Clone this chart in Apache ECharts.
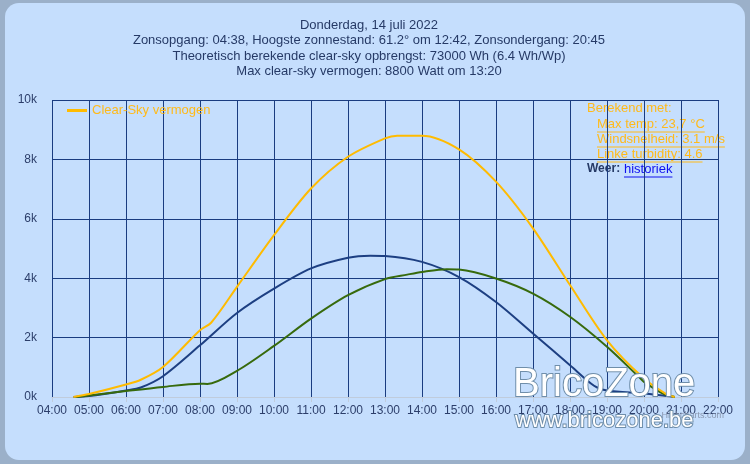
<!DOCTYPE html>
<html>
<head>
<meta charset="utf-8">
<script src="https://cdn.jsdelivr.net/npm/echarts@6/dist/echarts.min.js"></script>
<style>
  html, body { margin: 0; padding: 0; background: #9bb0c9; }
  #chart { width: 750px; height: 464px; }
</style>
</head>
<body>
<div id="chart"></div>
<script>
// Data (hour of day, kW)
const clearSkyTimes = [4.58, 5, 6, 6.4, 7, 8, 8.3, 9, 10, 11, 12, 13, 13.33, 14, 15, 16, 17, 18, 19, 20, 20.6, 20.83];
const clearSkyVals  = [0, 0.1, 0.42, 0.58, 1.01, 2.25, 2.5, 3.71, 5.45, 7.02, 8.09, 8.71, 8.8, 8.8, 8.34, 7.25, 5.68, 3.77, 1.91, 0.62, 0.1, 0];

const blueTimes = [4.58, 5, 6, 6.4, 7, 8, 9, 10, 11, 12, 12.6, 13, 14, 15, 16, 17, 18, 18.65, 19, 20, 20.6, 20.83];
const blueVals  = [0, 0.03, 0.22, 0.32, 0.70, 1.74, 2.83, 3.65, 4.33, 4.69, 4.76, 4.75, 4.55, 4.04, 3.20, 2.14, 1.07, 0.38, 0.22, 0.12, 0.03, 0];

const greenTimes = [4.65, 5, 6, 7, 8, 8.2, 9, 10, 11, 12, 13, 13.6, 14, 14.67, 15, 16, 17, 18, 19, 19.9, 20, 20.5, 20.83];
const greenVals  = [0, 0.05, 0.2, 0.34, 0.45, 0.44, 0.88, 1.72, 2.64, 3.43, 3.97, 4.12, 4.21, 4.3, 4.29, 3.99, 3.48, 2.70, 1.69, 0.63, 0.51, 0.12, 0];

const titleLines = [
  'Donderdag, 14 juli 2022',
  'Zonsopgang: 04:38, Hoogste zonnestand: 61.2° om 12:42, Zonsondergang: 20:45',
  'Theoretisch berekende clear-sky opbrengst: 73000 Wh (6.4 Wh/Wp)',
  'Max clear-sky vermogen: 8800 Watt om 13:20'
];
const infoLines = ['Max temp: 23,7 °C', 'Windsnelheid: 3.1 m/s', 'Linke turbidity: 4.6'];

const FONT = 'Liberation Sans';
const ORANGE = '#ffba1a';

function pairs(t, v) { return t.map((x, i) => [x, v[i]]); }

const measureCtx = document.createElement('canvas').getContext('2d');
function textW(s, size) { measureCtx.font = size + 'px "' + FONT + '"'; return measureCtx.measureText(s).width; }

const graphics = [
  { type: 'rect', left: 5, top: 3, z: -10, silent: true,
    shape: { width: 740, height: 457, r: 14 }, style: { fill: '#c5defd' } }
];
titleLines.forEach((s, i) => {
  graphics.push({ type: 'text', x: 369, y: 19 + i * 15.3,
    style: { text: s, font: '13px "' + FONT + '"', fill: '#263a66', align: 'center' } });
});
graphics.push({ type: 'text', left: 587, top: 102,
  style: { text: 'Berekend met:', font: '13px "' + FONT + '"', fill: ORANGE } });
infoLines.forEach((s, i) => {
  const y = 118 + i * 15;
  graphics.push({ type: 'text', left: 597, top: y,
    style: { text: s, font: '13px "' + FONT + '"', fill: ORANGE } });
  graphics.push({ type: 'line', silent: true,
    shape: { x1: 597, y1: y + 14, x2: 597 + textW(s, 13), y2: y + 14 },
    style: { stroke: ORANGE, lineWidth: 1 } });
});
graphics.push({ type: 'text', left: 587, top: 163,
  style: { text: 'Weer:', font: 'bold 12px "' + FONT + '"', fill: '#263a66' } });
graphics.push({ type: 'text', left: 624, top: 163,
  style: { text: 'historiek', font: '13px "' + FONT + '"', fill: '#1010ee' } });
graphics.push({ type: 'line', silent: true,
  shape: { x1: 624, y1: 177, x2: 624 + textW('historiek', 13), y2: 177 },
  style: { stroke: '#1010ee', lineWidth: 1 } });
// watermark
graphics.push({ type: 'text', left: 512, top: 364, z: 100,
  style: { text: 'BricoZone', font: '40px "Liberation Sans"', fill: '#ffffff', stroke: '#6f8eaa', lineWidth: 2 } });
graphics.push({ type: 'text', left: 514, top: 409, z: 100,
  style: { text: 'www.bricozone.be', font: '22px "Liberation Sans"', fill: '#ffffff', stroke: '#6f8eaa', lineWidth: 2 } });
graphics.push({ type: 'text', right: 26, top: 411, z: 90,
  style: { text: 'Highcharts.com', font: '9px "' + FONT + '"', fill: '#8a98b0' } });

const chart = echarts.init(document.getElementById('chart'));
chart.setOption({
  backgroundColor: 'transparent',
  animation: false,
  textStyle: { fontFamily: FONT },
  graphic: graphics,
  legend: {
    data: ['Clear-Sky vermogen'], left: 62, top: 99, itemWidth: 20, itemHeight: 3, icon: 'rect',
    itemGap: 8, textStyle: { color: ORANGE, fontSize: 13, fontFamily: FONT }
  },
  grid: { left: 52, right: 32, top: 100, bottom: 67 },
  xAxis: {
    type: 'value', min: 4, max: 22, interval: 1,
    axisLine: { lineStyle: { color: '#c0ccdc' } },
    axisTick: { show: true, length: 5, lineStyle: { color: '#c0ccdc' } },
    axisLabel: { color: '#2c3e6a', fontSize: 12, margin: 8,
      formatter: v => (v < 10 ? '0' : '') + v + ':00' },
    splitLine: { show: true, lineStyle: { color: '#1a3c80', width: 1 } }
  },
  yAxis: {
    type: 'value', min: 0, max: 10, interval: 2,
    axisLine: { show: false }, axisTick: { show: false },
    axisLabel: { color: '#2c3e6a', fontSize: 12, margin: 15, formatter: v => v + 'k' },
    splitLine: { show: true, lineStyle: { color: '#1a3c80', width: 1 } }
  },
  series: [
    { name: 'Clear-Sky vermogen', type: 'line', data: pairs(clearSkyTimes, clearSkyVals),
      smooth: 0.3, showSymbol: false, lineStyle: { color: '#ffbb00', width: 2 }, itemStyle: { color: '#ffbb00' }, z: 3 },
    { name: 'Vermogen', type: 'line', data: pairs(blueTimes, blueVals),
      smooth: 0.3, showSymbol: false, lineStyle: { color: '#1d3f82', width: 2 }, itemStyle: { color: '#1d3f82' }, z: 2 },
    { name: 'Verwacht', type: 'line', data: pairs(greenTimes, greenVals),
      smooth: 0.3, showSymbol: false, lineStyle: { color: '#376a0c', width: 2 }, itemStyle: { color: '#376a0c' }, z: 2 }
  ]
});
</script>
</body>
</html>
